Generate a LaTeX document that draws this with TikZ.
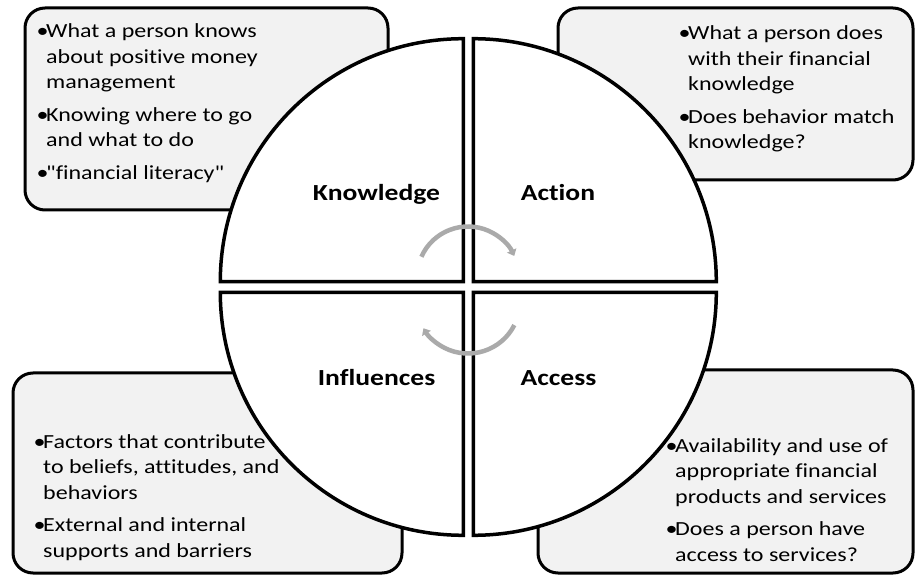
\documentclass[tikz,border=0pt]{standalone}
\usepackage{fontspec}
\setmainfont[FakeStretch=1.2, Ligatures={NoCommon,TeXOff}]{Carlito}
\usetikzlibrary{arrows.meta}

\definecolor{boxgray}{RGB}{242,242,242}
\definecolor{loopgray}{RGB}{170,170,170}

% bullet list with hanging indent and fixed line breaks
\newlength\bulletw
\setlength\bulletw{10pt}
\newcommand\noteitem[1]{\par\noindent\makebox[\bulletw][l]{\hspace{0.5pt}•}\begin{tabular}[t]{@{}l@{}}#1\end{tabular}\par}
\newcommand\itemgap{\vspace{6pt}}
\newcommand\notelist[1]{\parbox[t]{320pt}{#1}}

\tikzset{
  infobox/.style={draw=black, line width=3pt, fill=boxgray, rounded corners=20pt},
  quarter/.style={draw=black, line width=3.5pt, fill=white, line join=miter},
  cyclearrow/.style={draw=loopgray, line width=4.5pt, -{Triangle[length=6pt,width=10pt]}},
  segtitle/.style={anchor=base, inner sep=0pt, font=\bfseries\fontsize{23}{28}\selectfont},
  notes/.style={anchor=base west, inner sep=0pt, font=\fontsize{20}{25.5}\selectfont},
}

\begin{document}
\begin{tikzpicture}[x=1pt, y=-1pt]
  \useasboundingbox (0,0) rectangle (916,577);

  % grey text panels behind the circle
  \draw[infobox] (25,8) rectangle (388,210);
  \draw[infobox] (558,8) rectangle (913,180);
  \draw[infobox] (13,373) rectangle (402,573);
  \draw[infobox] (538,370) rectangle (913,573);

  % the four quarters of the circle, pulled slightly apart
  \coordinate (cTL) at (463.3,281.7);
  \coordinate (cTR) at (473.3,281.7);
  \coordinate (cBL) at (463.3,292.3);
  \coordinate (cBR) at (473.3,292.3);
  \draw[quarter] (cTL) -- ++(-243,0) arc[start angle=180, end angle=270, radius=243] -- cycle;
  \draw[quarter] (cTR) -- ++(0,-243) arc[start angle=270, end angle=360, radius=243] -- cycle;
  \draw[quarter] (cBL) -- ++(-243,0) arc[start angle=180, end angle=90, radius=243] -- cycle;
  \draw[quarter] (cBR) -- ++(243,0) arc[start angle=0, end angle=90, radius=243] -- cycle;

  % circular arrows around the centre
  \coordinate (loopTop) at (468,277.5);
  \coordinate (loopBot) at (468,301.5);
  \draw[cyclearrow] (loopTop) ++(-156:51) arc[start angle=-156, end angle=-25, radius=51];
  \draw[cyclearrow] (loopBot) ++(27:52) arc[start angle=27, end angle=149, radius=52];

  % quarter titles
  \node[segtitle] (know) at (376.5,200.7) {Knowledge};
  \node[segtitle] (act)  at (558,200.7) {Action};
  \node[segtitle] (infl) at (376.5,385) {Influences};
  \node[segtitle] (acc)  at (558.5,385) {Access};

  % panel texts
  \node[notes] (knowText) at (36,38) {\notelist{%
    \noteitem{What a person knows\\about positive money\\management}\itemgap
    \noteitem{Knowing where to go\\and what to do}\itemgap
    \noteitem{"financial literacy"}}};
  \node[notes] (actText) at (678,40) {\notelist{%
    \noteitem{What a person does\\with their financial\\knowledge}\itemgap
    \noteitem{Does behavior match\\knowledge?}}};
  \node[notes] (inflText) at (33,448) {\notelist{%
    \noteitem{Factors that contribute\\to beliefs, attitudes, and\\behaviors}\itemgap
    \noteitem{External and internal\\supports and barriers}}};
  \node[notes] (accText) at (665,452) {\notelist{%
    \noteitem{Availability and use of\\appropriate financial\\products and services}\itemgap
    \noteitem{Does a person have\\access to services?}}};
\end{tikzpicture}
\end{document}
